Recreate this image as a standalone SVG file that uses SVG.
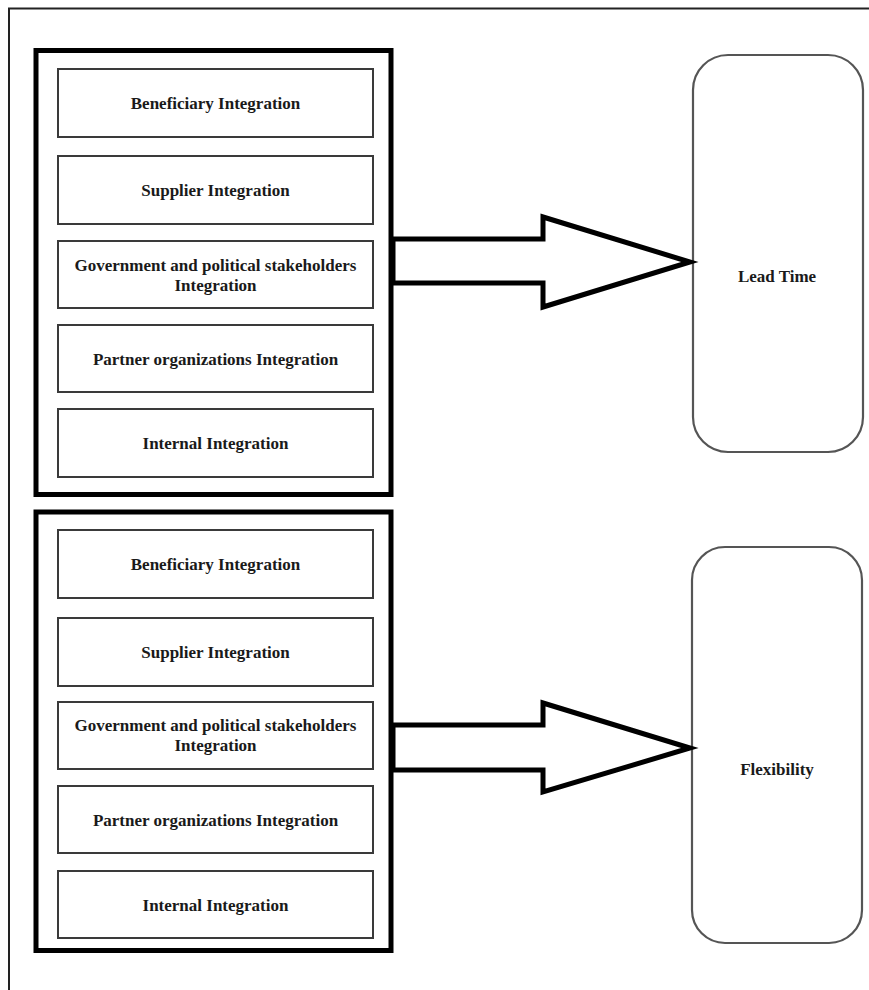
<svg xmlns="http://www.w3.org/2000/svg" width="869" height="990" viewBox="0 0 869 990">
  <style>
    .frame { fill: none; stroke: #222; stroke-width: 2; }
    .group { fill: none; stroke: #000; stroke-width: 5; }
    .item { fill: #fff; stroke: #3a3a3a; stroke-width: 2; }
    .outcome { fill: #fff; stroke: #555; stroke-width: 2.2; }
    .arrow { fill: #fff; stroke: #000; stroke-width: 5; stroke-linejoin: miter; }
    .label { font-family: "Liberation Serif", "Times New Roman", serif; font-weight: bold; font-size: 17px; fill: #1a1a1a; text-anchor: middle; }
  </style>
  <rect width="869" height="990" fill="#fff"/>
  <!-- page frame (top and left edges) -->
  <path class="frame" d="M9,990 V8.5 H869"/>

  <!-- first set of integration dimensions -->
  <g id="set-lead-time">
    <rect class="group" x="36" y="50.5" width="355" height="444"/>
    <g id="beneficiary-1"><rect class="item" x="58" y="69" width="315" height="68"/><text class="label" x="215.5" y="108.5">Beneficiary Integration</text></g>
    <g id="supplier-1"><rect class="item" x="58" y="156" width="315" height="68"/><text class="label" x="215.5" y="195.5">Supplier Integration</text></g>
    <g id="government-1"><rect class="item" x="58" y="241" width="315" height="67"/><text class="label" x="215.5" y="270.5">Government and political stakeholders</text><text class="label" x="215.5" y="290.5">Integration</text></g>
    <g id="partner-1"><rect class="item" x="58" y="325" width="315" height="67"/><text class="label" x="215.5" y="364.5">Partner organizations Integration</text></g>
    <g id="internal-1"><rect class="item" x="58" y="409" width="315" height="68"/><text class="label" x="215.5" y="448.5">Internal Integration</text></g>
  </g>

  <!-- second set of integration dimensions -->
  <g id="set-flexibility">
    <rect class="group" x="36" y="512" width="355" height="438.5"/>
    <g id="beneficiary-2"><rect class="item" x="58" y="530" width="315" height="68"/><text class="label" x="215.5" y="569.5">Beneficiary Integration</text></g>
    <g id="supplier-2"><rect class="item" x="58" y="618" width="315" height="68"/><text class="label" x="215.5" y="657.5">Supplier Integration</text></g>
    <g id="government-2"><rect class="item" x="58" y="702" width="315" height="67"/><text class="label" x="215.5" y="730.5">Government and political stakeholders</text><text class="label" x="215.5" y="750.5">Integration</text></g>
    <g id="partner-2"><rect class="item" x="58" y="786" width="315" height="67"/><text class="label" x="215.5" y="825.5">Partner organizations Integration</text></g>
    <g id="internal-2"><rect class="item" x="58" y="871" width="315" height="67"/><text class="label" x="215.5" y="910.5">Internal Integration</text></g>
  </g>

  <!-- outcomes -->
  <g id="lead-time">
    <rect class="outcome" x="693" y="55" width="170" height="397" rx="35" ry="35"/>
    <text class="label" x="777" y="281.5">Lead Time</text>
  </g>
  <g id="flexibility">
    <rect class="outcome" x="692" y="547" width="170" height="396" rx="33" ry="33"/>
    <text class="label" x="777" y="774.5">Flexibility</text>
  </g>

  <!-- block arrows -->
  <g id="connectors">
    <polygon class="arrow" points="393,239 543,239 543,217 690,262 543,307 543,283 393,283"/>
    <polygon class="arrow" points="393,725 543,725 543,703 690,748 543,792 543,770 393,770"/>
  </g>
</svg>
